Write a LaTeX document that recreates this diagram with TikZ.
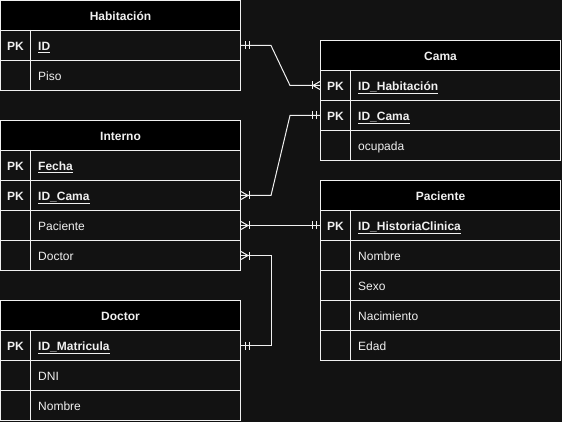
\documentclass[tikz,border=0pt]{standalone}
\usepackage{fontspec}
\setmainfont{Liberation Sans}
\usetikzlibrary{calc}
\definecolor{bg}{HTML}{121212}
\definecolor{lc}{HTML}{F0F0F0}
\definecolor{tc}{HTML}{F0F0F0}
\tikzset{
  hdr/.style={draw=lc, line width=1pt, fill=black, minimum width=240pt, minimum height=30pt, inner sep=0pt, text=tc, text height=10.6pt, text depth=0pt, font=\fontsize{12}{14}\selectfont\bfseries},
  rowbox/.style={draw=lc, line width=1pt, fill=bg, minimum width=240pt, minimum height=30pt, inner sep=0pt},
  pktext/.style={inner sep=0pt, text height=10.6pt, text depth=0pt, text=tc, font=\fontsize{12}{14}\selectfont\bfseries},
  fieldtext/.style={inner sep=0pt, text height=10.6pt, text depth=0pt, text=tc, font=\fontsize{12}{14}\selectfont},
  conn/.style={draw=lc, line width=1pt},
}
\newcommand{\myrow}[5]{%
  \node[rowbox] (#1) at (#2,#3) {};
  \draw[conn] ($(#1.north west)+(30,0)$) -- ($(#1.south west)+(30,0)$);
  \node[pktext, anchor=west] (#1-pk) at ($(#1.west)+(7,0)$) {#4};
  \node[fieldtext, anchor=west] (#1-f) at ($(#1.west)+(38,0)$) {#5};
}
\newcommand{\keyf}[1]{\textbf{\underline{#1}}}
\begin{document}
\begin{tikzpicture}[x=1pt,y=-1pt]
\fill[bg] (-0.5,-0.5) rectangle (561.5,421.5);
\useasboundingbox (-0.5,-0.5) rectangle (561.5,421.5);

% Habitacion
\node[hdr] (hab) at (120,15) {Habitación};
\myrow{habid}{120}{45}{PK}{\keyf{ID}}
\myrow{habpiso}{120}{75}{}{Piso}

% Cama
\node[hdr] (cama) at (440,55) {Cama};
\myrow{camaidh}{440}{85}{PK}{\keyf{ID\_Habitación}}
\myrow{camaidc}{440}{115}{PK}{\keyf{ID\_Cama}}
\myrow{camaoc}{440}{145}{}{ocupada}

% Interno
\node[hdr] (int) at (120,135) {Interno};
\myrow{intfecha}{120}{165}{PK}{\keyf{Fecha}}
\myrow{intcama}{120}{195}{PK}{\keyf{ID\_Cama}}
\myrow{intpac}{120}{225}{}{Paciente}
\myrow{intdoc}{120}{255}{}{Doctor}

% Doctor
\node[hdr] (doc) at (120,315) {Doctor};
\myrow{docmat}{120}{345}{PK}{\keyf{ID\_Matricula}}
\myrow{docdni}{120}{375}{}{DNI}
\myrow{docnom}{120}{405}{}{Nombre}

% Paciente
\node[hdr] (pac) at (440,195) {Paciente};
\myrow{pacid}{440}{225}{PK}{\keyf{ID\_HistoriaClinica}}
\myrow{pacnom}{440}{255}{}{Nombre}
\myrow{pacsexo}{440}{285}{}{Sexo}
\myrow{pacnac}{440}{315}{}{Nacimiento}
\myrow{pacedad}{440}{345}{}{Edad}

% Connectors
\draw[conn] (habid.east) -- ++(30,0) -- ($(camaidh.west)+(-30,0)$) -- (camaidh.west);
\draw[conn] (intcama.east) -- ++(30,0) -- ($(camaidc.west)+(-30,0)$) -- (camaidc.west);
\draw[conn] (intpac.east) -- (pacid.west);
\draw[conn] (intdoc.east) -- ++(30,0) |- (docmat.east);

% one-mandatory marks
\foreach \n in {habid, docmat}{
  \draw[conn] ($(\n.east)+(4,-4)$) -- ++(0,8);
  \draw[conn] ($(\n.east)+(8,-4)$) -- ++(0,8);
}
\foreach \n in {camaidc, pacid}{
  \draw[conn] ($(\n.west)+(-4,-4)$) -- ++(0,8);
  \draw[conn] ($(\n.west)+(-8,-4)$) -- ++(0,8);
}
% one-to-many marks (table on the left side)
\foreach \n in {intcama, intpac, intdoc}{
  \draw[conn] ($(\n.east)+(0,-4)$) -- ($(\n.east)+(7,0)$) -- ($(\n.east)+(0,4)$);
  \draw[conn] ($(\n.east)+(8,-4)$) -- ++(0,8);
}
% one-to-many mark (table on the right side)
\draw[conn] ($(camaidh.west)+(0,-4)$) -- ($(camaidh.west)+(-7,0)$) -- ($(camaidh.west)+(0,4)$);
\draw[conn] ($(camaidh.west)+(-8,-4)$) -- ++(0,8);
\end{tikzpicture}
\end{document}
